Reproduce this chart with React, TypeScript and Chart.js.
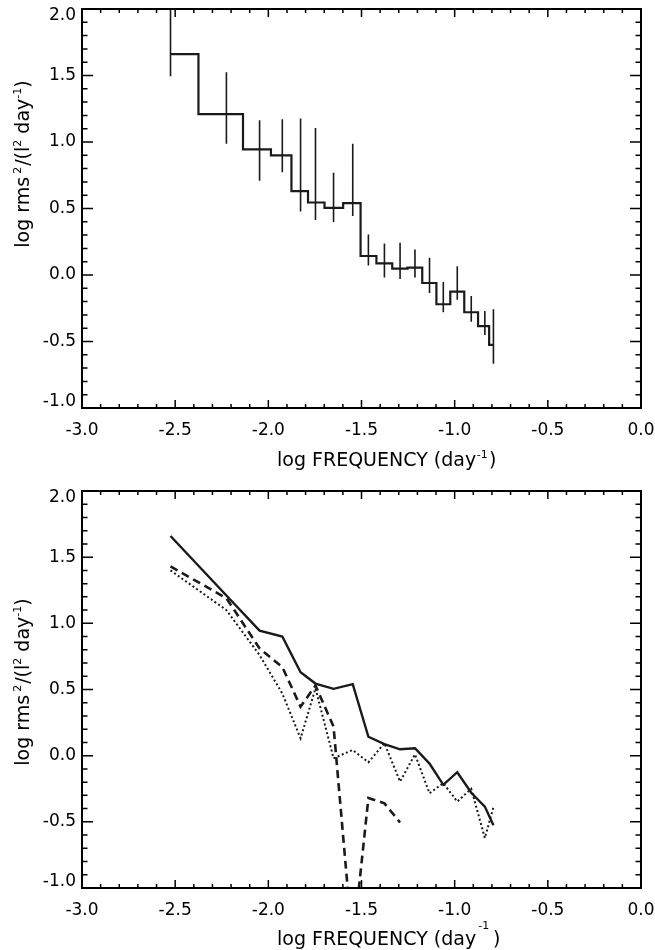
import React, { useEffect, useRef } from 'react';
import { Chart, registerables } from 'chart.js';

Chart.register(...registerables);

// ---------- data ----------
const FREQ = [-2.525, -2.225, -2.047, -1.925, -1.827, -1.747, -1.65, -1.547, -1.463, -1.377, -1.293, -1.213, -1.135, -1.061, -0.986, -0.911, -0.838, -0.792];
const POWER = [1.66, 1.21, 0.945, 0.9, 0.63, 0.545, 0.505, 0.54, 0.143, 0.088, 0.048, 0.056, -0.06, -0.22, -0.125, -0.28, -0.385, -0.525];
const ERR_LO = [1.495, 0.987, 0.709, 0.773, 0.477, 0.414, 0.399, 0.444, 0.071, -0.018, -0.03, -0.018, -0.136, -0.28, -0.187, -0.351, -0.452, -0.667];
const ERR_HI = [2.1, 1.525, 1.164, 1.171, 1.177, 1.106, 0.768, 0.987, 0.305, 0.237, 0.242, 0.192, 0.129, -0.053, 0.066, -0.157, -0.27, -0.258];
const DASHED = [1.43, 1.19, 0.81, 0.67, 0.37, 0.53, 0.22, -1.44, -0.32, -0.36, -0.505];
const DOTTED = [1.4, 1.1, 0.76, 0.47, 0.131, 0.509, -0.02, 0.043, -0.05, 0.094, -0.196, 0.01, -0.284, -0.208, -0.347, -0.25, -0.623, -0.39];

const X_TICKS = [-3.0, -2.5, -2.0, -1.5, -1.0, -0.5, 0.0];
const Y_TICKS = [-1.0, -0.5, 0.0, 0.5, 1.0, 1.5, 2.0];
const X_MIN = -3, X_MAX = 0, Y_MIN = -1, Y_MAX = 2, MINOR_STEP = 0.1;

const X_TITLE_MAIN = 'log FREQUENCY (day';
const SUP_MINUS_ONE = '-1';
const Y_TITLE_PARTS = ['log rms', '2', '/(l', '2', ' day', '-1', ')'];

const FONT = "'DejaVu Sans', 'Liberation Sans', sans-serif";

type Seg = { t: string; s: number; dy?: number; gap?: number };

function drawSegs(ctx: CanvasRenderingContext2D, segs: Seg[], x0: number, y0: number, center: boolean) {
  let total = 0;
  const widths: number[] = [];
  segs.forEach((sg) => {
    ctx.font = `${sg.s}px ${FONT}`;
    const w = ctx.measureText(sg.t).width;
    widths.push(w);
    total += w + (sg.gap || 0);
  });
  let x = center ? x0 - total / 2 : x0;
  segs.forEach((sg, i) => {
    x += sg.gap || 0;
    ctx.font = `${sg.s}px ${FONT}`;
    ctx.fillText(sg.t, x, y0 + (sg.dy || 0));
    x += widths[i];
  });
}

function makeFramePlugin(xTitle: Seg[], xTitleX: number, xTitleY: number, yTitleCY: number) {
  return {
    id: 'frameAndTitles',
    afterDatasetsDraw(chart: any) {
      const { ctx, chartArea: a, scales } = chart;
      const xs = scales.x, ys = scales.y;
      ctx.save();
      ctx.strokeStyle = '#000';
      ctx.lineWidth = 1.5;
      ctx.beginPath();
      const nx = Math.round((X_MAX - X_MIN) / MINOR_STEP);
      for (let i = 0; i <= nx; i++) {
        const v = X_MIN + i * MINOR_STEP;
        const px = xs.getPixelForValue(v);
        const len = i % 5 === 0 ? 8 : 4;
        ctx.moveTo(px, a.bottom); ctx.lineTo(px, a.bottom - len);
        ctx.moveTo(px, a.top); ctx.lineTo(px, a.top + len);
      }
      const ny = Math.round((Y_MAX - Y_MIN) / MINOR_STEP);
      for (let i = 0; i <= ny; i++) {
        const v = Y_MIN + i * MINOR_STEP;
        const py = ys.getPixelForValue(v);
        const len = i % 5 === 0 ? 11 : 5.5;
        ctx.moveTo(a.left, py); ctx.lineTo(a.left + len, py);
        ctx.moveTo(a.right, py); ctx.lineTo(a.right - len, py);
      }
      ctx.stroke();
      ctx.lineWidth = 2;
      ctx.strokeRect(a.left, a.top, a.right - a.left, a.bottom - a.top);

      // axis titles
      ctx.fillStyle = '#000';
      ctx.textBaseline = 'alphabetic';
      ctx.textAlign = 'left';
      drawSegs(ctx, xTitle, xTitleX, xTitleY, false);

      ctx.translate(28.5, yTitleCY);
      ctx.rotate(-Math.PI / 2);
      const ySegs: Seg[] = [
        { t: Y_TITLE_PARTS[0], s: 19 },
        { t: Y_TITLE_PARTS[1], s: 11, dy: -8, gap: 3 },
        { t: Y_TITLE_PARTS[2], s: 19, gap: 1 },
        { t: Y_TITLE_PARTS[3], s: 11, dy: -8 },
        { t: Y_TITLE_PARTS[4], s: 19 },
        { t: Y_TITLE_PARTS[5], s: 11, dy: -8 },
        { t: Y_TITLE_PARTS[6], s: 19 },
      ];
      drawSegs(ctx, ySegs, 0, 0, true);
      ctx.restore();
    },
  };
}

function scales(xHeight: number) {
  return {
    x: {
      type: 'linear',
      min: X_MIN,
      max: X_MAX,
      offset: false,
      grid: { display: false, drawTicks: false },
      border: { display: false },
      ticks: {
        autoSkip: false,
        maxRotation: 0,
        padding: 12,
        color: '#000',
        font: { family: FONT, size: 17 },
        callback: (v: any) => Number(v).toFixed(1),
      },
      afterBuildTicks: (s: any) => { s.ticks = X_TICKS.map((v) => ({ value: v })); },
      afterFit: (s: any) => { s.height = xHeight; s.paddingLeft = 0; s.paddingRight = 0; },
    },
    y: {
      type: 'linear',
      min: Y_MIN,
      max: Y_MAX,
      grid: { display: false, drawTicks: false },
      border: { display: false },
      ticks: {
        autoSkip: false,
        padding: 6,
        color: '#000',
        font: { family: FONT, size: 17, lineHeight: 0.75 },
        // the end labels sit inside the axis range, as in the reference
        callback: (v: any) => {
          const s = Number(v).toFixed(1);
          if (Number(v) >= Y_MAX) return ['', s];
          if (Number(v) <= Y_MIN) return [s, ''];
          return s;
        },
      },
      afterBuildTicks: (s: any) => { s.ticks = Y_TICKS.map((v) => ({ value: v })); },
      afterFit: (s: any) => { s.width = 82; s.paddingTop = 0; s.paddingBottom = 0; },
    },
  };
}

const commonOpts = {
  responsive: false,
  animation: false as const,
  events: [] as any[],
  plugins: { legend: { display: false }, tooltip: { enabled: false } },
};

export default function App() {
  const topRef = useRef<HTMLCanvasElement>(null);
  const botRef = useRef<HTMLCanvasElement>(null);

  useEffect(() => {
    const stepData = FREQ.map((x, i) => ({ x, y: POWER[i] }));
    const errData: any[] = [];
    FREQ.forEach((x, i) => {
      errData.push({ x, y: ERR_LO[i] }, { x, y: ERR_HI[i] }, { x, y: null });
    });

    const top = new Chart(topRef.current!, {
      type: 'line',
      data: {
        datasets: [
          { data: stepData, stepped: 'middle', borderColor: '#1a1a1a', borderWidth: 2.2, pointRadius: 0, fill: false },
          { data: errData, borderColor: '#1a1a1a', borderWidth: 1.6, pointRadius: 0, spanGaps: false, fill: false },
        ],
      },
      options: {
        ...commonOpts,
        layout: { padding: { top: 9, right: 14, left: 0, bottom: 0 } },
        scales: scales(67) as any,
      },
      plugins: [
        makeFramePlugin(
          [
            { t: X_TITLE_MAIN, s: 19 },
            { t: SUP_MINUS_ONE, s: 11, dy: -8, gap: 0.5 },
            { t: ')', s: 19, gap: 1.5 },
          ],
          277, 466, 164
        ),
      ],
    } as any);

    const bottom = new Chart(botRef.current!, {
      type: 'line',
      data: {
        datasets: [
          { data: FREQ.map((x, i) => ({ x, y: POWER[i] })), borderColor: '#1a1a1a', borderWidth: 2.4, pointRadius: 0, tension: 0, fill: false },
          { data: DASHED.map((y, i) => ({ x: FREQ[i], y })), borderColor: '#1a1a1a', borderWidth: 2.6, borderDash: [8, 5], borderCapStyle: 'butt', pointRadius: 0, tension: 0, fill: false },
          { data: DOTTED.map((y, i) => ({ x: FREQ[i], y })), borderColor: '#1a1a1a', borderWidth: 2, borderDash: [2, 2.5], borderCapStyle: 'butt', pointRadius: 0, tension: 0, fill: false },
        ],
      },
      options: {
        ...commonOpts,
        layout: { padding: { top: 16, right: 14, left: 0, bottom: 0 } },
        scales: scales(62) as any,
      },
      plugins: [
        makeFramePlugin(
          [
            { t: X_TITLE_MAIN, s: 19 },
            { t: SUP_MINUS_ONE, s: 11, dy: -16, gap: 2 },
            { t: ')', s: 19, gap: 4 },
          ],
          277, 470, 207
        ),
      ],
    } as any);

    return () => {
      top.destroy();
      bottom.destroy();
    };
  }, []);

  return (
    <div style={{ position: 'absolute', left: 0, top: 0, width: 655, height: 950, background: '#fff' }}>
      <canvas ref={topRef} width={655} height={475} style={{ display: 'block', width: 655, height: 475 }} />
      <canvas ref={botRef} width={655} height={475} style={{ display: 'block', width: 655, height: 475 }} />
    </div>
  );
}
